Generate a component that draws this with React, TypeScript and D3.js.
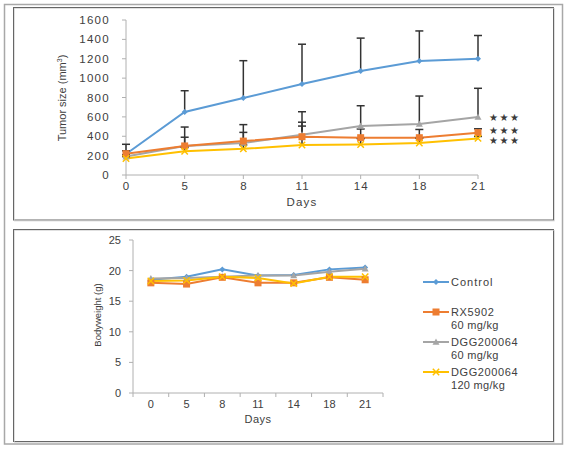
import React from "react";
import * as d3 from "d3";

const days = ["0", "5", "8", "11", "14", "18", "21"];
const tumorTicks = [0, 200, 400, 600, 800, 1000, 1200, 1400, 1600];
const weightTicks = [0, 5, 10, 15, 20, 25];

const tumorControl = [217, 650, 795, 940, 1073, 1177, 1200];
const tumorControlErr = [100, 220, 385, 410, 340, 310, 240];
const tumorRX = [220, 300, 350, 395, 385, 385, 437];
const tumorRXErr = [30, 90, 90, 150, 90, 85, 40];
const tumorDGG60 = [190, 300, 330, 416, 506, 526, 599];
const tumorDGG60Err = [20, 195, 190, 237, 209, 289, 296];
const tumorDGG120 = [170, 245, 270, 310, 315, 330, 378];
const tumorDGG120Err = [20, 40, 40, 195, 60, 50, 20];

const weightControl = [18.5, 19.0, 20.2, 19.2, 19.3, 20.2, 20.5];
const weightRX = [18.0, 17.8, 18.9, 18.0, 18.0, 18.9, 18.5];
const weightDGG60 = [18.7, 18.8, 19.0, 19.2, 19.2, 19.8, 20.3];
const weightDGG120 = [18.3, 18.4, 19.0, 18.8, 17.9, 19.0, 19.0];

const seriesNames = ["Control", "RX5902", "DGG200064", "DGG200064"];
const seriesSub = ["", "60 mg/kg", "60 mg/kg", "120 mg/kg"];
const colors = ["#5B9BD5", "#ED7D31", "#A5A5A5", "#FFC000"];
const markers = ["diamond", "square", "triangle", "x"];

const FONT = "'Liberation Sans', Arial, sans-serif";

function Marker({ type, x, y, color, s = 1 }: { type: string; x: number; y: number; color: string; s?: number }) {
  if (type === "diamond") {
    const r = 3 * s;
    return <path d={`M${x},${y - r}L${x + r},${y}L${x},${y + r}L${x - r},${y}Z`} fill={color} />;
  }
  if (type === "square") {
    const r = 3.5 * s;
    return <rect x={x - r} y={y - r} width={2 * r} height={2 * r} fill={color} />;
  }
  if (type === "triangle") {
    const r = 3.5 * s;
    return <path d={`M${x},${y - r}L${x + r},${y + r * 0.8}L${x - r},${y + r * 0.8}Z`} fill={color} />;
  }
  const r = 3.2 * s;
  return (
    <path d={`M${x - r},${y - r}L${x + r},${y + r}M${x - r},${y + r}L${x + r},${y - r}`} stroke={color} strokeWidth={1.5} />
  );
}

export default function App() {
  const tx = d3.scalePoint<string>().domain(days).range([126, 478]);
  const ty = d3.scaleLinear().domain([0, 1600]).range([175, 20]);
  const topSeries = [
    { v: tumorControl, e: tumorControlErr },
    { v: tumorRX, e: tumorRXErr },
    { v: tumorDGG60, e: tumorDGG60Err },
    { v: tumorDGG120, e: tumorDGG120Err },
  ];
  const topLine = (vals: number[]) =>
    d3.line<number>().x((_, i) => tx(days[i])!).y((d) => ty(d))(vals)!;

  const bx = d3.scaleBand<string>().domain(days).range([133, 383]);
  const by = d3.scaleLinear().domain([0, 25]).range([393, 240]);
  const botSeries = [weightControl, weightRX, weightDGG60, weightDGG120];
  const botLine = (vals: number[]) =>
    d3.line<number>().x((_, i) => bx(days[i])! + bx.bandwidth() / 2).y((d) => by(d))(vals)!;

  const axisColor = "#b0b0b0";
  const textColor = "#404040";
  const drawOrder = [0, 2, 1, 3];

  return (
    <div style={{ position: "absolute", left: 0, top: 0 }}>
      <svg width={572} height={449} style={{ display: "block", background: "#fff", fontFamily: FONT }}>
        <rect x={4.5} y={4.5} width={558} height={439.5} fill="none" stroke="#a8a8a8" strokeWidth={1.5} />
        <rect x={13.5} y={7.5} width={540} height={212.5} fill="none" stroke="#666" strokeWidth={1} />
        <rect x={14.5} y={8.5} width={540} height={212.5} fill="none" stroke="#ccc" strokeWidth={0.6} />
        <rect x={13.5} y={229.5} width={540} height={212} fill="none" stroke="#666" strokeWidth={1} />
        <rect x={14.5} y={230.5} width={540} height={212} fill="none" stroke="#ccc" strokeWidth={0.6} />

        <line x1={126} x2={126} y1={ty(1600)} y2={ty(0)} stroke={axisColor} />
        <line x1={126} x2={478} y1={ty(0)} y2={ty(0)} stroke={axisColor} />
        {tumorTicks.map((t) => (
          <g key={t}>
            <line x1={122} x2={126} y1={ty(t)} y2={ty(t)} stroke={axisColor} />
            <text x={110} y={ty(t) + 4} textAnchor="end" fontSize={11.5} letterSpacing={1.3} fill={textColor}>
              {t}
            </text>
          </g>
        ))}
        {days.map((d) => (
          <g key={d}>
            <line x1={tx(d)} x2={tx(d)} y1={ty(0)} y2={ty(0) + 4} stroke={axisColor} />
            <text x={tx(d)! + 0.7} y={190} textAnchor="middle" fontSize={11.5} letterSpacing={1.3} fill={textColor}>
              {d}
            </text>
          </g>
        ))}
        <text x={302} y={206} textAnchor="middle" fontSize={11.5} letterSpacing={1.2} fill={textColor}>
          Days
        </text>
        <text transform={`translate(66,98) rotate(-90)`} textAnchor="middle" fontSize={11} fill={textColor}>
          Tumor size (mm<tspan fontSize={7} dy={-4}>3</tspan><tspan dy={4}>)</tspan>
        </text>

        {drawOrder.map((si) => (
          <path key={"l" + si} d={topLine(topSeries[si].v)} fill="none" stroke={colors[si]} strokeWidth={2} />
        ))}
        {drawOrder.map((si) =>
          topSeries[si].v.map((v, i) => {
            const x = tx(days[i])!;
            const y0 = ty(v);
            const y1 = ty(v + topSeries[si].e[i]);
            return (
              <g key={`e${si}-${i}`} stroke="#333" strokeWidth={1.5}>
                <line x1={x} x2={x} y1={y0} y2={y1} />
                <line x1={x - 4} x2={x + 4} y1={y1} y2={y1} />
              </g>
            );
          })
        )}
        {drawOrder.map((si) =>
          topSeries[si].v.map((v, i) => (
            <Marker key={`m${si}-${i}`} type={markers[si]} x={tx(days[i])!} y={ty(v)} color={colors[si]} />
          ))
        )}
        {[2, 1, 3].map((si) => (
          <text
            key={"s" + si}
            x={489}
            y={ty(topSeries[si].v[6]) + 4 + (si === 3 ? 2 : 0) + (si === 1 ? -3 : 0)}
            fontSize={10}
            letterSpacing={1.5}
            fill="#3a3a3a"
            fontFamily="'DejaVu Sans', sans-serif"
          >
            ★★★
          </text>
        ))}

        <line x1={133} x2={133} y1={by(25)} y2={by(0)} stroke={axisColor} />
        <line x1={133} x2={383} y1={by(0)} y2={by(0)} stroke={axisColor} />
        {weightTicks.map((t) => (
          <g key={"w" + t}>
            <line x1={129} x2={133} y1={by(t)} y2={by(t)} stroke={axisColor} />
            <text x={121} y={by(t) + 4} textAnchor="end" fontSize={11} fill={textColor}>
              {t}
            </text>
          </g>
        ))}
        {days.map((d, i) => (
          <g key={"bd" + d}>
            <line x1={bx(d)! + bx.bandwidth()} x2={bx(d)! + bx.bandwidth()} y1={by(0)} y2={by(0) + 4} stroke={axisColor} />
            {i === 0 && <line x1={bx(d)} x2={bx(d)} y1={by(0)} y2={by(0) + 4} stroke={axisColor} />}
            <text x={bx(d)! + bx.bandwidth() / 2} y={408} textAnchor="middle" fontSize={11} fill={textColor}>
              {d}
            </text>
          </g>
        ))}
        <text x={258} y={423} textAnchor="middle" fontSize={11} letterSpacing={0.5} fill={textColor}>
          Days
        </text>
        <text transform={`translate(101,315) rotate(-90)`} textAnchor="middle" fontSize={9.5} fill={textColor}>
          Bodyweight (g)
        </text>
        {drawOrder.map((si) => (
          <path key={"bl" + si} d={botLine(botSeries[si])} fill="none" stroke={colors[si]} strokeWidth={2} />
        ))}
        {drawOrder.map((si) =>
          botSeries[si].map((v, i) => (
            <Marker
              key={`bm${si}-${i}`}
              type={markers[si]}
              x={bx(days[i])! + bx.bandwidth() / 2}
              y={by(v)}
              color={colors[si]}
            />
          ))
        )}

        {seriesNames.map((name, i) => {
          const y = [282, 312, 342, 372][i];
          return (
            <g key={"lg" + i}>
              <line x1={423} x2={449} y1={y} y2={y} stroke={colors[i]} strokeWidth={2} />
              <Marker type={markers[i]} x={436} y={y} color={colors[i]} />
              <text x={451} y={y + 4} fontSize={11} letterSpacing={i === 0 ? 1 : 0.6} fill={textColor}>
                {name}
              </text>
              {seriesSub[i] && (
                <text x={451} y={y + 17} fontSize={11} letterSpacing={0.3} fill={textColor}>
                  {seriesSub[i]}
                </text>
              )}
            </g>
          );
        })}
      </svg>
    </div>
  );
}
